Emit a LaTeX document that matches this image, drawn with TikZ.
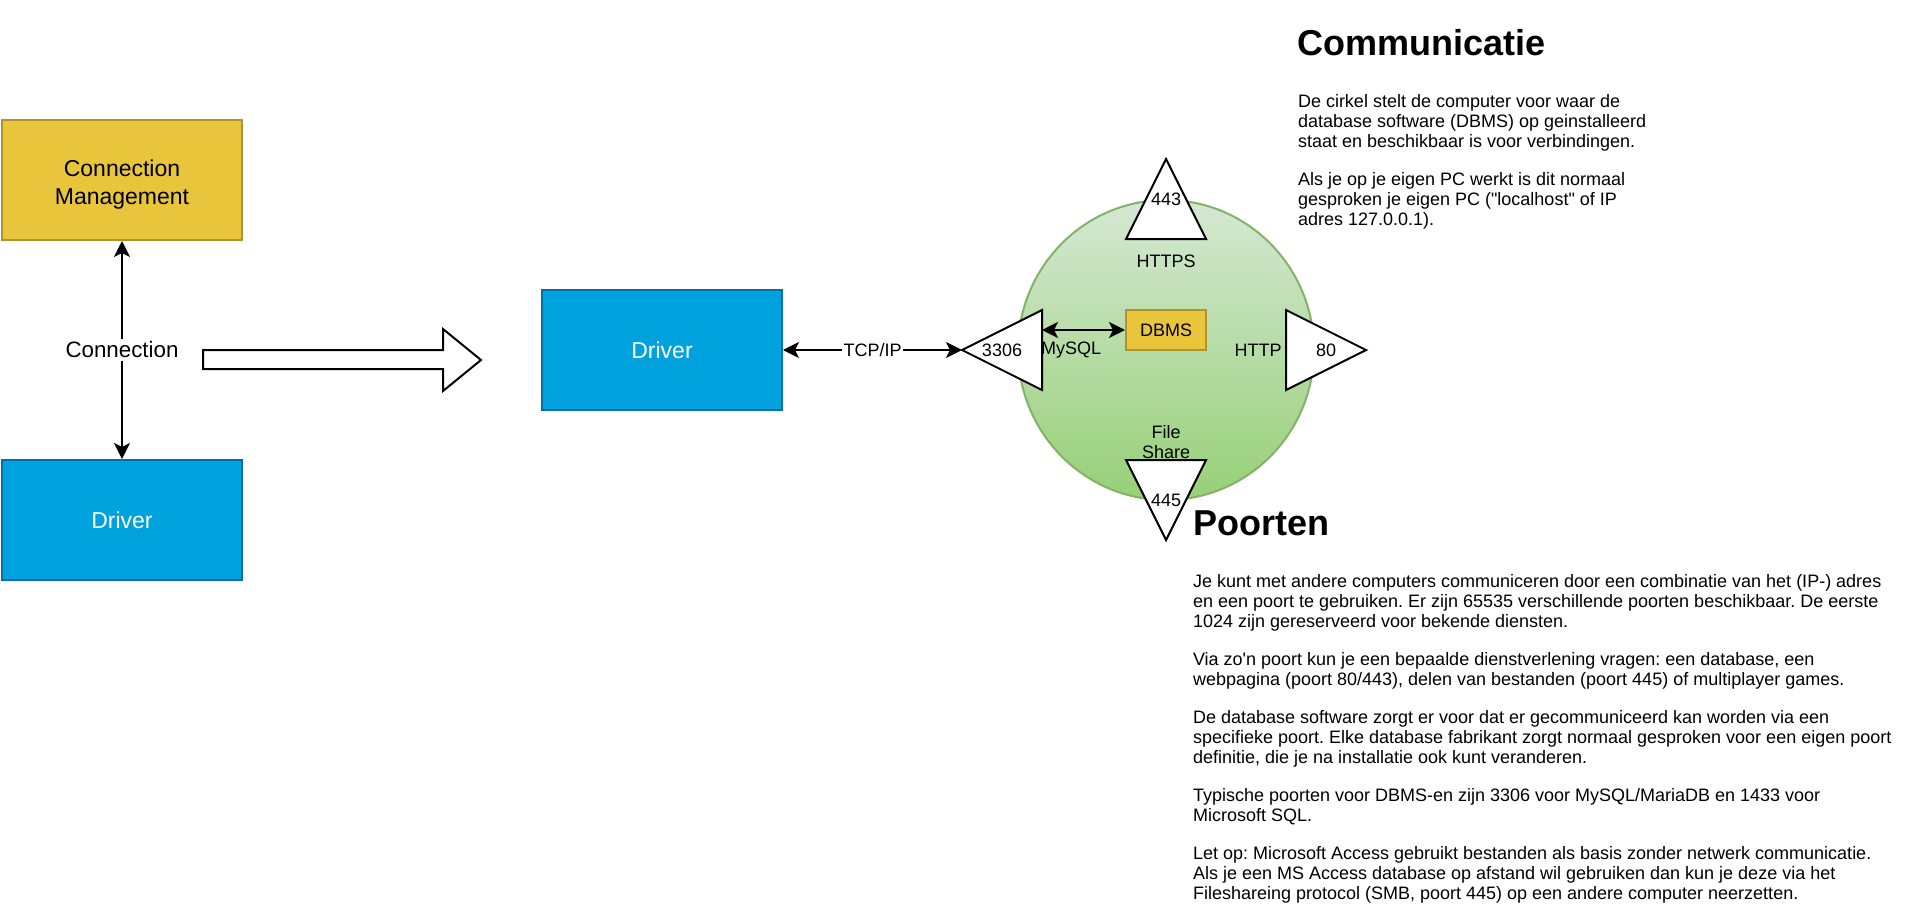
\documentclass[tikz,border=0pt]{standalone}
\usepackage{fontspec}
\setmainfont{Liberation Sans}[Ligatures=TeXOff]
\usetikzlibrary{arrows.meta,positioning,shapes.geometric}
\definecolor{mgmt}{HTML}{E8C53A}
\definecolor{mgmtline}{HTML}{B0922E}
\definecolor{drv}{HTML}{00A2DE}
\definecolor{drvline}{HTML}{006EAF}
\definecolor{pctop}{HTML}{D5E8D4}
\definecolor{pcbot}{HTML}{97D077}
\definecolor{pcline}{HTML}{82B366}
\frenchspacing

\begin{document}
\begin{tikzpicture}[x=0.75pt,y=-0.75pt,line width=1.5pt,
    >={Stealth[length=12pt,width=12pt,inset=3pt]},
    box/.style={draw,minimum width=180pt,minimum height=90pt,inner sep=0pt,
                align=center,font=\fontsize{17.25}{21}\selectfont},
    boxtext/.style={inner sep=0pt,align=center,font=\fontsize{17.25}{21}\selectfont},
    small/.style={font=\fontsize{13.5}{15}\selectfont,inner sep=0pt,align=center},
    body/.style={font=\fontsize{13.5}{15}\selectfont,inner sep=0pt,align=left},
    head/.style={font=\bfseries\fontsize{27}{30}\selectfont,inner sep=0pt},
    port/.style={draw=black,fill=white}]
  \useasboundingbox (0,0) rectangle (1905,922);

  \node[box,fill=mgmt,draw=mgmtline,
        label={[name=cmtext,boxtext,yshift=-3.5pt]center:Connection\\Management}] (cm) at (122,180) {};
  \node[box,fill=drv,draw=drvline,text=white] (drvL) at (122,520) {Driver};
  \draw[<->] (cm) -- (drvL)
    node[midway,fill=white,inner sep=2pt,font=\fontsize{16.75}{20}\selectfont] (conn) {Connection};
  \draw[fill=white] (203,350) -- (443,350) -- (443,329) -- (481,360) -- (443,391)
    -- (443,369) -- (203,369) -- cycle;

  \node[box,fill=drv,draw=drvline,text=white] (drvM) at (662,350) {Driver};

  \node[ellipse,draw=pcline,top color=pctop,bottom color=pcbot,
        minimum width=222pt,minimum height=225pt] (pc) at (1166,350) {};
  \foreach \nm/\x/\y/\a in {443/1166/199/0,3306/1002/350/90,80/1326/350/270,445/1166/500/180}{
    \draw[port,shift={(\x,\y)},rotate=\a] (0,-40) -- (40,40) -- (-40,40) -- cycle;
    \node[small] (p\nm) at (\x,\y) {\nm};
  }
  \coordinate (tip3306) at (962,350);
  \coordinate (base3306) at (1042,330);
  \draw[<->] (drvM) -- (tip3306) node[midway,fill=white,small,inner sep=1pt] (tcp) {TCP/IP};

  \node[box,fill=mgmt,draw=mgmtline,minimum width=60pt,minimum height=30pt,
        font=\fontsize{13.5}{15}\selectfont] (dbms) at (1166,330) {DBMS};
  \draw[<->] (base3306) -- (dbms);
  \node[small] (mysql) at (1071,350) {MySQL};
  \node[small] (http) at (1258,350) {HTTP};
  \node[small] (https) at (1166,261) {HTTPS};
  \node[small] (share) at (1166,442) {File\\Share};

  \node[head,anchor=base west] (commhead) at (1296,55) {Communicatie};
  \node[body,anchor=north west] (commtext) at (1297,93)
   {De cirkel stelt de computer voor waar de\\
    database software (DBMS) op geinstalleerd\\
    staat en beschikbaar is voor verbindingen.\\[13.5pt]
    Als je op je eigen PC werkt is dit normaal\\
    gesproken je eigen PC ("localhost" of IP\\
    adres 127.0.0.1).};

  \node[head,anchor=base west] (porthead) at (1192,535) {Poorten};
  \node[body,anchor=north west] (porttext) at (1192,573)
   {Je kunt met andere computers communiceren door een combinatie van het (IP-) adres\\
    en een poort te gebruiken. Er zijn 65535 verschillende poorten beschikbaar. De eerste\\
    1024 zijn gereserveerd voor bekende diensten.\\[13.5pt]
    Via zo'n poort kun je een bepaalde dienstverlening vragen: een database, een\\
    webpagina (poort 80/443), delen van bestanden (poort 445) of multiplayer games.\\[13.5pt]
    De database software zorgt er voor dat er gecommuniceerd kan worden via een\\
    specifieke poort. Elke database fabrikant zorgt normaal gesproken voor een eigen poort\\
    definitie, die je na installatie ook kunt veranderen.\\[13.5pt]
    Typische poorten voor DBMS-en zijn 3306 voor MySQL/MariaDB en 1433 voor\\
    Microsoft SQL.\\[13.5pt]
    Let op: Microsoft Access gebruikt bestanden als basis zonder netwerk communicatie.\\
    Als je een MS Access database op afstand wil gebruiken dan kun je deze via het\\
    Fileshareing protocol (SMB, poort 445) op een andere computer neerzetten.};
\end{tikzpicture}
\end{document}
